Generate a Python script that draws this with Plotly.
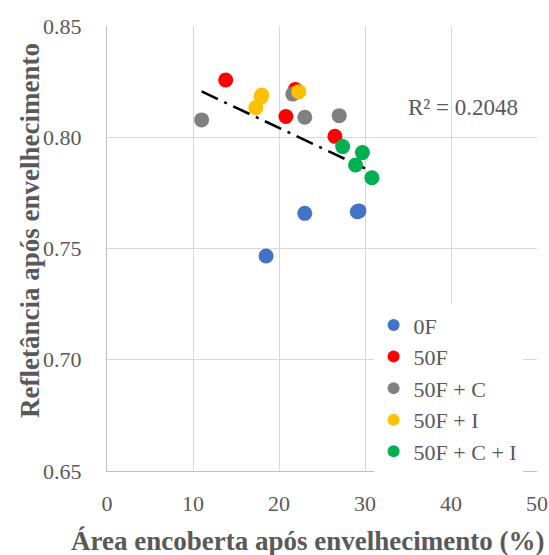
import plotly.graph_objects as go

series_names = ["0F", "50F", "50F + C", "50F + I", "50F + C + I"]
series_colors = ["#4472C4", "#FF0000", "#808080", "#FFC000", "#00B050"]

x_0F = [18.5, 23.0, 29.3, 29.1]
y_0F = [0.7466, 0.7658, 0.7669, 0.7665]

x_50F = [13.8, 21.9, 20.8, 26.5]
y_50F = [0.8257, 0.8215, 0.8093, 0.8004]

x_50FC = [11.0, 21.6, 23.0, 27.0]
y_50FC = [0.8078, 0.8194, 0.8090, 0.8097]

x_50FI = [18.0, 17.3, 22.3, 17.9]
y_50FI = [0.8190, 0.8133, 0.8205, 0.8180]

x_50FCI = [27.4, 29.7, 28.9, 30.8]
y_50FCI = [0.7958, 0.7931, 0.7875, 0.7818]

trend_x = [11.0, 30.0]
trend_y = [0.8206, 0.7860]
r2_label = "R² = 0.2048"
x_title = "<b>Área encoberta após envelhecimento (%)</b>"
y_title = "<b>Refletância após envelhecimento</b>"

xs = [x_0F, x_50F, x_50FC, x_50FI, x_50FCI]
ys = [y_0F, y_50F, y_50FC, y_50FI, y_50FCI]

font_family = "Liberation Serif, Times New Roman, serif"
txt_color = "#595959"

# plot-area pixel frame (for placing paper-referenced text)
L, R, T, B = 107, 537, 26, 471
def px(xp):
    return (xp - L) / (R - L)
def py(yp):
    return (B - yp) / (B - T)

fig = go.Figure()
fig.add_trace(go.Scatter(x=trend_x, y=trend_y, mode="lines",
                         line=dict(color="black", width=2.5, dash="18px,7px,3px,7px"),
                         showlegend=False, hoverinfo="skip"))
for name, color, x, y in zip(series_names, series_colors, xs, ys):
    fig.add_trace(go.Scatter(x=x, y=y, mode="markers", name=name,
                             marker=dict(color=color, size=15, line=dict(width=0))))

fig.add_annotation(x=px(520), y=py(108), xref="paper", yref="paper", text=r2_label,
                   showarrow=False, xanchor="right", yanchor="middle",
                   font=dict(family=font_family, size=23, color=txt_color))
fig.add_annotation(x=px(307), y=py(541), xref="paper", yref="paper", text=x_title,
                   showarrow=False, xanchor="center", yanchor="middle",
                   font=dict(family=font_family, size=27, color=txt_color))
fig.add_annotation(x=px(30), y=py(231), xref="paper", yref="paper", text=y_title,
                   showarrow=False, xanchor="center", yanchor="middle", textangle=-90,
                   font=dict(family=font_family, size=27, color=txt_color))

fig.update_layout(
    width=549, height=555,
    margin=dict(l=L, r=549 - R, t=T, b=555 - B, autoexpand=False),
    paper_bgcolor="white", plot_bgcolor="white",
    font=dict(family=font_family, color=txt_color),
    legend=dict(x=0.62, y=0.375, xanchor="left", yanchor="top",
                bgcolor="white", font=dict(family=font_family, size=22, color=txt_color),
                itemwidth=30, tracegroupgap=0, itemsizing="constant"),
    xaxis=dict(range=[0, 50], dtick=10, showgrid=True, gridcolor="#D9D9D9", gridwidth=1.3,
               zeroline=False, showline=True, linecolor="#BFBFBF", linewidth=1.3,
               automargin=False,
               tickfont=dict(family=font_family, size=22, color=txt_color),
               ticklabelstandoff=12),
    yaxis=dict(range=[0.65, 0.85], dtick=0.05, tickformat=".2f", showgrid=True,
               gridcolor="#D9D9D9", gridwidth=1.3,
               zeroline=False, showline=True, linecolor="#BFBFBF", linewidth=1.3,
               automargin=False,
               tickfont=dict(family=font_family, size=22, color=txt_color),
               ticklabelstandoff=20),
)

fig.write_html("out.html")
